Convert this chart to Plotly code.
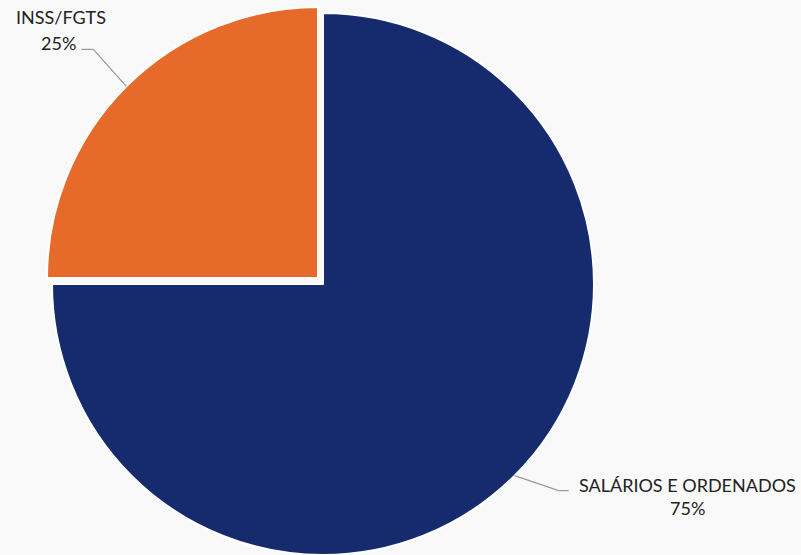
import math
import plotly.graph_objects as go

# ---- data ----
labels = ["INSS/FGTS", "SALÁRIOS E ORDENADOS"]
values = [25, 75]
pct_text = ["25%", "75%"]
colors = ["#e66a2a", "#152b6e"]

# ---- layout geometry (pixels) ----
W, H = 801, 555
R = 271                      # pie radius in px
ROT = -90                    # first slice starts at 9 o'clock, clockwise
base_center = (323, 284)     # centre of the un-pulled pie
pull_offset = (-5, -6)       # shift of the exploded slice

def px_to_paper(x, y):
    return x / W, 1 - y / H

def domain_for(cx, cy, r):
    return dict(x=[(cx - r) / W, (cx + r) / W],
                y=[(H - cy - r) / H, (H - cy + r) / H])

fig = go.Figure()

total = sum(values)
pulled_center = (base_center[0] + pull_offset[0], base_center[1] + pull_offset[1])
centers = [pulled_center, base_center]

# one pie trace per slice (the other slice is made transparent) so the
# exploded slice keeps the full radius
for i in range(len(values)):
    cx, cy = centers[i]
    fills = ["rgba(0,0,0,0)"] * len(values)
    fills[i] = colors[i]
    lines = ["rgba(0,0,0,0)"] * len(values)
    lines[i] = "#ffffff"
    fig.add_trace(go.Pie(
        labels=labels, values=values, sort=False, direction="clockwise",
        rotation=ROT, textinfo="none", hoverinfo="skip",
        marker=dict(colors=fills, line=dict(color=lines, width=2)),
        domain=domain_for(cx, cy, R), showlegend=False,
    ))

# leader lines from each slice's mid-arc point
elbows = [(-33, -37), (44, 15)]
tails = [(-12, 0), (10, 0)]
shapes = []
cum = 0
for i, v in enumerate(values):
    f = (cum + v / 2) / total
    cum += v
    a = math.radians(ROT + 360 * f)
    cx, cy = centers[i]
    ex, ey = cx + R * math.sin(a), cy - R * math.cos(a)
    e2 = (ex + elbows[i][0], ey + elbows[i][1])
    e3 = (e2[0] + tails[i][0], e2[1] + tails[i][1])
    for (p, q) in [((ex, ey), e2), (e2, e3)]:
        x0, y0 = px_to_paper(*p)
        x1, y1 = px_to_paper(*q)
        shapes.append(dict(type="line", xref="paper", yref="paper",
                           x0=x0, y0=y0, x1=x1, y1=y1,
                           line=dict(color="#9a9a9a", width=1.2)))

# label positions (pixel centres)
label_pos = [(61, 17), (687, 485)]
pct_pos = [(58, 43), (687, 508)]
font = dict(family="Lato, 'Open Sans', sans-serif", size=18, color="#222222")
annotations = []
for i in range(len(values)):
    for txt, (x, y) in [(labels[i], label_pos[i]), (pct_text[i], pct_pos[i])]:
        px, py = px_to_paper(x, y)
        annotations.append(dict(text=txt, x=px, y=py, xref="paper", yref="paper",
                                xanchor="center", yanchor="middle",
                                showarrow=False, font=font))

fig.update_layout(
    width=W, height=H,
    margin=dict(l=0, r=0, t=0, b=0),
    paper_bgcolor="#f9f9f9", plot_bgcolor="#f9f9f9",
    shapes=shapes, annotations=annotations,
)

fig.write_html("out.html",
               config={"displayModeBar": False},
               post_script="document.body.style.margin='0';"
                           "document.body.style.overflow='hidden';")
